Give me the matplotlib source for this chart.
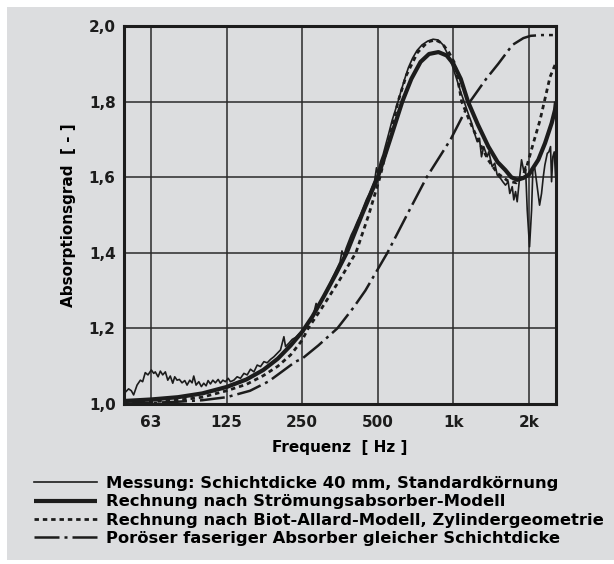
import numpy as np
import matplotlib.pyplot as plt
from matplotlib.patches import Rectangle

plt.rcParams['font.family'] = ['DejaVu Sans']
plt.rcParams['font.weight'] = 'bold'

# Messung (Frequenz in Hz, Absorptionsgrad)
mess_f = [49.7, 50.9, 52.2, 53.3, 55.0, 56.7, 57.9, 59.3, 60.8, 62.7, 64.1, 65.0, 66.7, 68.1,
          69.6, 71.3, 72.9, 74.6, 76.3, 77.7, 79.4, 81.1, 83.1, 85.2, 87.0, 89.2, 91.1, 92.5,
          94.5, 96.9, 99.2, 101.4, 103.6, 105.5, 107.8, 110.2, 112.8, 115.7, 118.1, 120.8,
          123.7, 126.8, 129.5, 133.6, 137.7, 142.0, 146.5, 151.0, 155.6, 160.6, 165.5, 170.6,
          176.0, 181.4, 187.0, 192.9, 198.8, 204.9, 211.4, 214.6, 221.4, 228.2, 235.2, 242.7,
          254.0, 262, 270, 278, 284, 290, 298, 306, 314, 322, 330, 338, 346, 354, 360, 366,
          374, 382, 392, 402, 414, 426, 438, 450, 462, 474, 486, 494, 500, 512, 525, 540, 555,
          570, 586, 602, 620, 640, 662, 688, 716, 750, 790, 830, 870, 910, 950, 990, 1030,
          1070, 1110, 1150, 1180, 1206, 1244, 1270, 1294, 1321, 1363, 1383, 1427, 1461, 1494,
          1540, 1573, 1612, 1653, 1677, 1715, 1740, 1768, 1795, 1834, 1868, 1908, 1937, 1968,
          2010, 2048, 2072, 2110, 2157, 2204, 2244, 2280, 2313, 2365, 2400, 2437, 2460, 2489,
          2521, 2552]
mess_a = [1.033, 1.040, 1.035, 1.024, 1.050, 1.063, 1.059, 1.083, 1.077, 1.090, 1.081, 1.085,
          1.072, 1.087, 1.077, 1.085, 1.063, 1.074, 1.055, 1.072, 1.063, 1.065, 1.056, 1.062,
          1.050, 1.063, 1.056, 1.074, 1.050, 1.059, 1.046, 1.055, 1.048, 1.062, 1.053, 1.063,
          1.056, 1.065, 1.055, 1.063, 1.059, 1.068, 1.059, 1.063, 1.072, 1.068, 1.081, 1.077,
          1.092, 1.085, 1.103, 1.099, 1.112, 1.109, 1.118, 1.125, 1.134, 1.143, 1.178, 1.152,
          1.161, 1.171, 1.176, 1.185, 1.194, 1.210, 1.224, 1.240, 1.266, 1.257, 1.270, 1.288,
          1.304, 1.318, 1.334, 1.348, 1.362, 1.376, 1.405, 1.392, 1.412, 1.428, 1.447, 1.462,
          1.482, 1.500, 1.520, 1.540, 1.556, 1.574, 1.592, 1.625, 1.610, 1.640, 1.660, 1.690,
          1.720, 1.750, 1.775, 1.800, 1.830, 1.860, 1.890, 1.915, 1.935, 1.950, 1.960, 1.965,
          1.963, 1.950, 1.925, 1.895, 1.860, 1.825, 1.795, 1.765, 1.745, 1.722, 1.694, 1.703,
          1.654, 1.681, 1.654, 1.667, 1.628, 1.637, 1.606, 1.597, 1.588, 1.579, 1.588, 1.557,
          1.575, 1.540, 1.562, 1.535, 1.597, 1.646, 1.615, 1.628, 1.513, 1.416, 1.513, 1.619,
          1.623, 1.575, 1.526, 1.557, 1.601, 1.632, 1.663, 1.667, 1.681, 1.588, 1.654, 1.667,
          1.601]

# Rechnung Stroemungsabsorber-Modell
stroem_f = [48.8, 62.5, 80, 100, 125, 150, 175, 200, 225, 250, 275, 305, 340, 376, 432, 500,
            560, 626, 680, 740, 800, 872, 940, 1000, 1070, 1143, 1250, 1378, 1500, 1610, 1700,
            1795, 1900, 2000, 2051, 2178, 2317, 2462, 2539, 2562]
stroem_a = [1.008, 1.012, 1.018, 1.028, 1.045, 1.065, 1.090, 1.120, 1.155, 1.191, 1.232, 1.285,
            1.343, 1.400, 1.500, 1.600, 1.700, 1.800, 1.860, 1.905, 1.926, 1.931, 1.922, 1.900,
            1.860, 1.800, 1.740, 1.681, 1.640, 1.619, 1.600, 1.593, 1.598, 1.607, 1.619, 1.646,
            1.690, 1.743, 1.778, 1.800]

# Rechnung Biot-Allard-Modell
biot_f = [48.8, 62.5, 80, 100, 125, 150, 175, 200, 225, 250, 264, 300, 350, 409, 460, 510, 555,
          602, 650, 720, 790, 848, 900, 960, 1015, 1079, 1150, 1250, 1378, 1500, 1650, 1780,
          1870, 1959, 2081, 2213, 2330, 2425, 2539]
biot_a = [1.003, 1.006, 1.010, 1.018, 1.035, 1.052, 1.075, 1.100, 1.130, 1.169, 1.200, 1.255,
          1.325, 1.400, 1.500, 1.600, 1.700, 1.800, 1.870, 1.930, 1.958, 1.963, 1.955, 1.930,
          1.900, 1.800, 1.755, 1.700, 1.645, 1.610, 1.590, 1.585, 1.598, 1.628, 1.690, 1.751,
          1.815, 1.865, 1.897]

# Poroeser faseriger Absorber
poroes_f = [48.8, 62.5, 80, 100, 125, 155, 184, 210, 235, 250, 290, 345, 400, 446, 546, 653,
            783, 975, 1165, 1350, 1509, 1719, 1900, 2030, 2250, 2490]
poroes_a = [1.001, 1.003, 1.006, 1.010, 1.018, 1.035, 1.060, 1.088, 1.112, 1.120, 1.155, 1.200,
            1.255, 1.300, 1.400, 1.500, 1.600, 1.700, 1.800, 1.860, 1.900, 1.950, 1.968, 1.974,
            1.976, 1.976]

xticks = [62.5, 125, 250, 500, 1000, 2000]
xlabels = ['63', '125', '250', '500', '1k', '2k']
yticks = [1.0, 1.2, 1.4, 1.6, 1.8, 2.0]
ylabels = ['1,0', '1,2', '1,4', '1,6', '1,8', '2,0']

grau = '#dcdddf'
ink = '#1c1c1c'

fig = plt.figure(figsize=(6.14, 5.64), dpi=100)
fig.patch.set_facecolor('white')
fig.patches.append(Rectangle((7/614, 4/564), 607/614, 553/564, transform=fig.transFigure,
                             facecolor=grau, edgecolor='none', zorder=-10))

ax = fig.add_axes([124/614, 1-404/564, 432/614, 378/564])
ax.set_facecolor(grau)

l1, = ax.plot(mess_f, mess_a, color=ink, lw=1.2, zorder=4)
l2, = ax.plot(stroem_f, stroem_a, color=ink, lw=3.0, zorder=5, solid_capstyle='butt')
l3, = ax.plot(biot_f, biot_a, color=ink, lw=2.0, dashes=(1.6, 1.4), zorder=3)
l4, = ax.plot(poroes_f, poroes_a, color=ink, lw=1.8, dashes=(10, 2, 1.2, 2), zorder=3)

ax.set_xscale('log')
ax.set_xlim(48.8, 2562)
ax.set_ylim(1.0, 2.0)
ax.set_xticks(xticks)
ax.set_xticklabels(xlabels)
ax.minorticks_off()
ax.set_yticks(yticks)
ax.set_yticklabels(ylabels)
ax.tick_params(length=0, labelsize=11, colors=ink)
ax.tick_params(axis='x', pad=8)
ax.tick_params(axis='y', pad=6)
ax.grid(True, color='#2a2a2a', lw=1.1)
ax.set_axisbelow(True)
for s in ax.spines.values():
    s.set_linewidth(2.2)
    s.set_color(ink)

ax.set_xlabel('Frequenz  [ Hz ]', fontsize=11, fontweight='bold', labelpad=7)
ax.set_ylabel('Absorptionsgrad  [ - ]', fontsize=11, fontweight='bold', labelpad=9)

fig.legend([l1, l2, l3, l4],
           ['Messung: Schichtdicke 40 mm, Standardkörnung',
            'Rechnung nach Strömungsabsorber-Modell',
            'Rechnung nach Biot-Allard-Modell, Zylindergeometrie',
            'Poröser faseriger Absorber gleicher Schichtdicke'],
           loc='upper left', bbox_to_anchor=(34/614, 1-476/564), frameon=False,
           fontsize=11.8, handlelength=3.85, handletextpad=0.54, labelspacing=0.2,
           borderaxespad=0, borderpad=0)

fig.savefig('out.png', dpi=100)
